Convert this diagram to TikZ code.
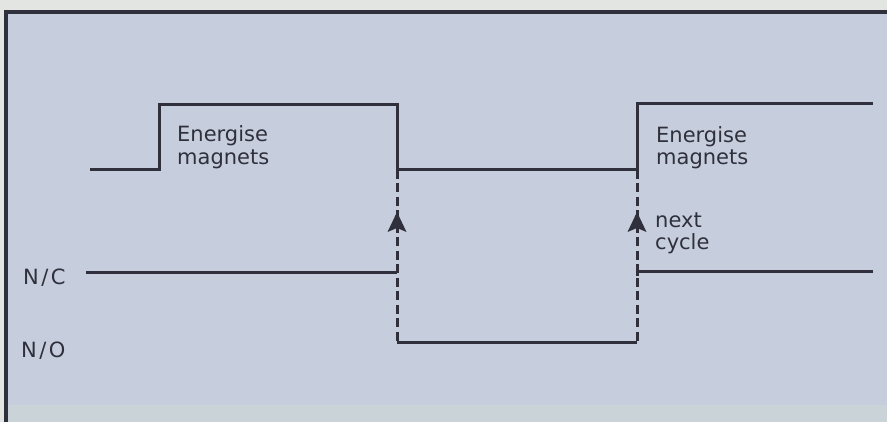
\documentclass[tikz,border=0pt]{standalone}
\usepackage{fontspec}
\setmainfont{DejaVu Sans}
\begin{document}
\begin{tikzpicture}[x=1pt,y=-1pt,
  sig/.style={line width=3pt,draw=ink,line join=miter},
  dsh/.style={line width=3pt,draw=ink,dash pattern=on 9pt off 4.5pt},
  lbl/.style={inner sep=0pt,anchor=base west,text=ink,font=\fontsize{21}{22}\selectfont},
  tip/.style={fill=ink,draw=none}]
\definecolor{ink}{HTML}{30303C}
\definecolor{bg}{HTML}{C6CEDD}
\definecolor{outer}{HTML}{E2E5E2}
\definecolor{strip}{HTML}{C9D3D8}
\useasboundingbox (0,0) rectangle (887,422);
\fill[outer] (0,0) rectangle (887,422);
\fill[bg] (6,12) rectangle (887,422);
\fill[strip] (6,405) rectangle (887,422);
\draw[line width=3.2pt,draw=ink] (6,422) -- (6,12) -- (887,12);
% coordinates
\coordinate (u0) at (90,170);
\coordinate (u1) at (159,170);
\coordinate (u2) at (159,105);
\coordinate (u3) at (397,105);
\coordinate (u4) at (397,170);
\coordinate (u5) at (637,170);
\coordinate (u6) at (637,104);
\coordinate (u7) at (873,104);
\coordinate (c0) at (86,273);
\coordinate (c1) at (397,273);
\coordinate (o1) at (397,343);
\coordinate (o2) at (637,343);
\coordinate (c2) at (637,272);
\coordinate (c3) at (873,272);
% signals
\draw[sig] (u0) -- (u1) -- (u2) -- (u3) -- (u4) -- (u5) -- (u6) -- (u7);
\draw[sig] (c0) -- (c1);
\draw[sig] (o1) -- (o2);
\draw[sig] (c3) -- (c2) -- ++(0,4);
\draw[dsh] (u4) -- (o1);
\draw[dsh] (u5) -- (o2);
% arrows
\fill[tip] (397,212) -- (406.5,232) -- (397,228) -- (387.5,232) -- cycle;
\fill[tip] (637,212) -- (646.5,232) -- (637,228) -- (627.5,232) -- cycle;
% labels
\node[lbl] (e1a) at (177,142) {Energise};
\node[lbl] (e1b) at (177,165) {magnets};
\node[lbl] (e2a) at (656,143) {Energise};
\node[lbl] (e2b) at (656,165) {magnets};
\node[lbl] (nx) at (655,228) {next};
\node[lbl] (cy) at (655,250) {cycle};
\node[lbl] (nc) at (23,285) {N\kern2.5pt/\kern2.5pt C};
\node[lbl] (no) at (21,358) {N\kern2.5pt/\kern2.5pt O};
\end{tikzpicture}
\end{document}
